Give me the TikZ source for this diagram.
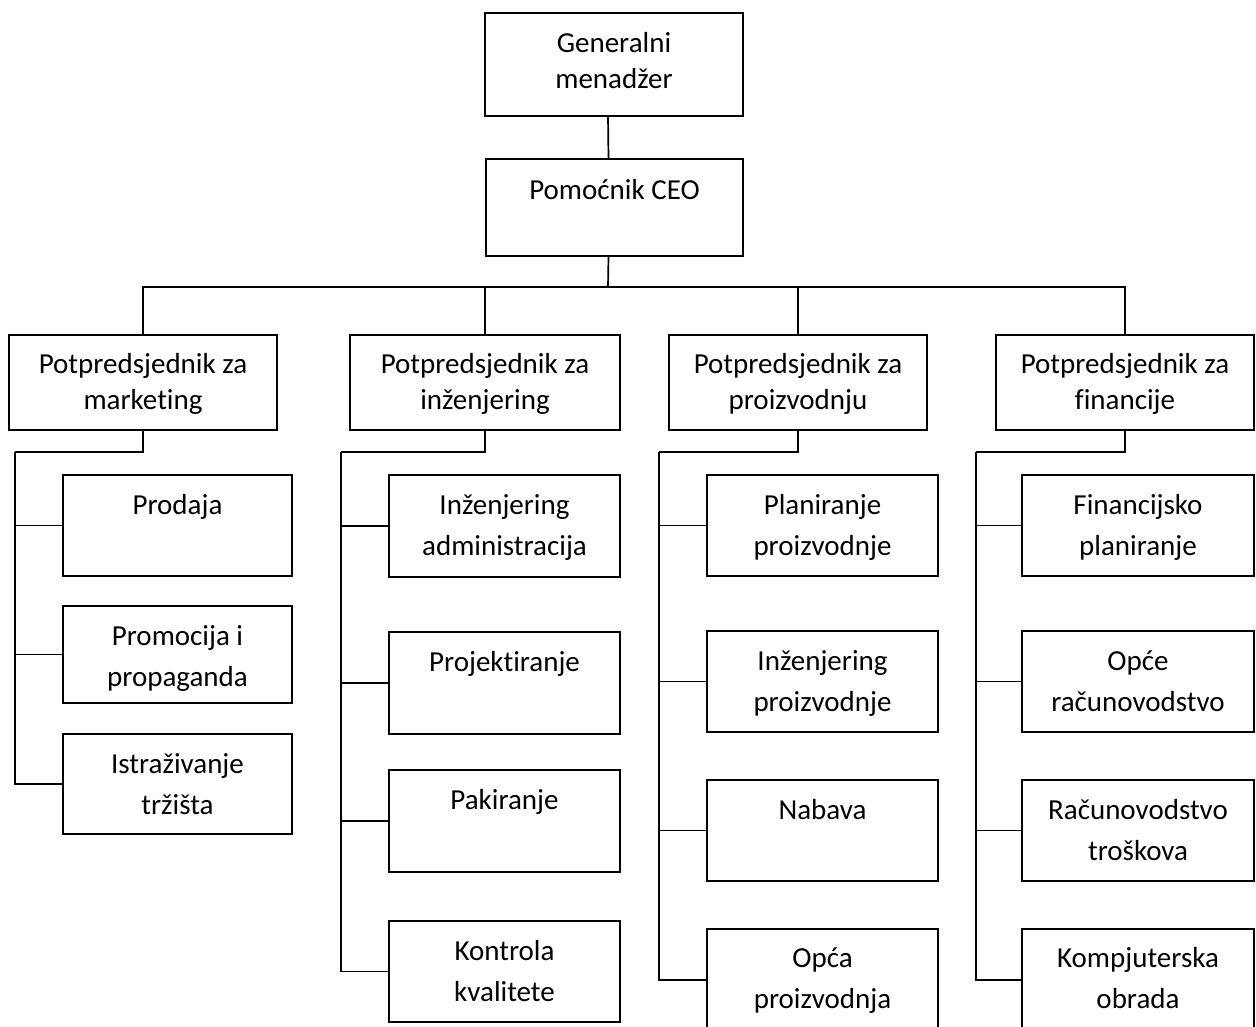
\documentclass[tikz,border=0pt]{standalone}
\usepackage{fontspec}
\setmainfont{Carlito}[Ligatures=NoCommon]
\tikzset{
  orgbox/.style={draw=black, line width=1.8pt, fill=white, inner sep=0pt, outer sep=0pt, anchor=north west},
  toptxt/.style={anchor=base, inner sep=0pt, text width=250pt, align=flush center, font=\fontsize{29pt}{36pt}\selectfont},
  subtxt/.style={anchor=base, inner sep=0pt, text width=226pt, align=flush center, font=\fontsize{29pt}{41pt}\selectfont},
  link/.style={draw=black, line width=1.7pt}
}
\begin{document}
\begin{tikzpicture}[x=1pt, y=-1pt]
\clip (0,0) rectangle (1256,1026);
\fill[white] (0,0) rectangle (1256,1026);

% top
\node[orgbox, minimum width=258pt, minimum height=103pt] (G) at (485,13) {};
\node[orgbox, minimum width=257pt, minimum height=97pt] (P) at (486,159) {};
% vice presidents
\node[orgbox, minimum width=268pt, minimum height=95pt] (V1) at (9,335) {};
\node[orgbox, minimum width=270pt, minimum height=95pt] (V2) at (350,335) {};
\node[orgbox, minimum width=258pt, minimum height=95pt] (V3) at (669,335) {};
\node[orgbox, minimum width=258pt, minimum height=95pt] (V4) at (996,335) {};
% marketing
\node[orgbox, minimum width=229pt, minimum height=101pt] (M1) at (63,475) {};
\node[orgbox, minimum width=229pt, minimum height=97pt] (M2) at (63,606) {};
\node[orgbox, minimum width=229pt, minimum height=100pt] (M3) at (63,734) {};
% engineering
\node[orgbox, minimum width=231pt, minimum height=102pt] (E1) at (389,475) {};
\node[orgbox, minimum width=231pt, minimum height=102pt] (E2) at (389,632) {};
\node[orgbox, minimum width=231pt, minimum height=102pt] (E3) at (389,770) {};
\node[orgbox, minimum width=231pt, minimum height=101pt] (E4) at (389,921) {};
% production
\node[orgbox, minimum width=231pt, minimum height=101pt] (R1) at (707,475) {};
\node[orgbox, minimum width=231pt, minimum height=101pt] (R2) at (707,631) {};
\node[orgbox, minimum width=231pt, minimum height=101pt] (R3) at (707,780) {};
\node[orgbox, minimum width=231pt, minimum height=102pt] (R4) at (707,929) {};
% finance
\node[orgbox, minimum width=232pt, minimum height=101pt] (F1) at (1022,475) {};
\node[orgbox, minimum width=232pt, minimum height=101pt] (F2) at (1022,631) {};
\node[orgbox, minimum width=232pt, minimum height=101pt] (F3) at (1022,780) {};
\node[orgbox, minimum width=232pt, minimum height=102pt] (F4) at (1022,929) {};

% texts
\node[toptxt] (Gt) at ([yshift=-39pt]G.north) {Generalni\\menadžer};
\node[toptxt] (Pt) at ([yshift=-40pt]P.north) {Pomoćnik CEO};
\node[toptxt] (V1t) at ([yshift=-38pt]V1.north) {Potpredsjednik za\\marketing};
\node[toptxt] (V2t) at ([yshift=-38pt]V2.north) {Potpredsjednik za\\inženjering};
\node[toptxt] (V3t) at ([yshift=-38pt]V3.north) {Potpredsjednik za\\proizvodnju};
\node[toptxt] (V4t) at ([yshift=-38pt]V4.north) {Potpredsjednik za\\financije};
\node[subtxt] (M1t) at ([yshift=-39pt]M1.north) {Prodaja};
\node[subtxt] (M2t) at ([yshift=-39pt]M2.north) {Promocija i\\propaganda};
\node[subtxt] (M3t) at ([yshift=-39pt]M3.north) {Istraživanje\\tržišta};
\node[subtxt] (E1t) at ([yshift=-39pt]E1.north) {Inženjering\\administracija};
\node[subtxt] (E2t) at ([yshift=-39pt]E2.north) {Projektiranje};
\node[subtxt] (E3t) at ([yshift=-39pt]E3.north) {Pakiranje};
\node[subtxt] (E4t) at ([yshift=-39pt]E4.north) {Kontrola\\kvalitete};
\node[subtxt] (R1t) at ([yshift=-39pt]R1.north) {Planiranje\\proizvodnje};
\node[subtxt] (R2t) at ([yshift=-39pt]R2.north) {Inženjering\\proizvodnje};
\node[subtxt] (R3t) at ([yshift=-39pt]R3.north) {Nabava};
\node[subtxt] (R4t) at ([yshift=-38pt]R4.north) {Opća\\proizvodnja};
\node[subtxt] (F1t) at ([yshift=-39pt]F1.north) {Financijsko\\planiranje};
\node[subtxt] (F2t) at ([yshift=-39pt]F2.north) {Opće\\računovodstvo};
\node[subtxt] (F3t) at ([yshift=-39pt]F3.north) {Računovodstvo\\troškova};
\node[subtxt] (F4t) at ([yshift=-38pt]F4.north) {Kompjuterska\\obrada};

% connectors
\coordinate (bus) at (608,287);
\coordinate (m1) at (15,452);
\coordinate (m2) at (341,452);
\coordinate (m3) at (659,452);
\coordinate (m4) at (976,452);

\draw[link] ([xshift=-6pt]G.south) -- ([xshift=-6pt]P.north);
\draw[link] ([xshift=-6pt]P.south) -- (bus);
\draw[link] (V1.north) |- (bus);
\draw[link] (V2.north) |- (bus);
\draw[link] (V3.north) |- (bus);
\draw[link] (V4.north) |- (bus);

\draw[link] (V1.south) |- (m1);
\draw[link] (m1) |- (M1.west);
\draw[link] (m1) |- (M2.west);
\draw[link] (m1) |- (M3.west);

\draw[link] (V2.south) |- (m2);
\draw[link] (m2) |- (E1.west);
\draw[link] (m2) |- (E2.west);
\draw[link] (m2) |- (E3.west);
\draw[link] (m2) |- (E4.west);

\draw[link] (V3.south) |- (m3);
\draw[link] (m3) |- (R1.west);
\draw[link] (m3) |- (R2.west);
\draw[link] (m3) |- (R3.west);
\draw[link] (m3) |- (R4.west);

\draw[link] (V4.south) |- (m4);
\draw[link] (m4) |- (F1.west);
\draw[link] (m4) |- (F2.west);
\draw[link] (m4) |- (F3.west);
\draw[link] (m4) |- (F4.west);
\end{tikzpicture}
\end{document}
